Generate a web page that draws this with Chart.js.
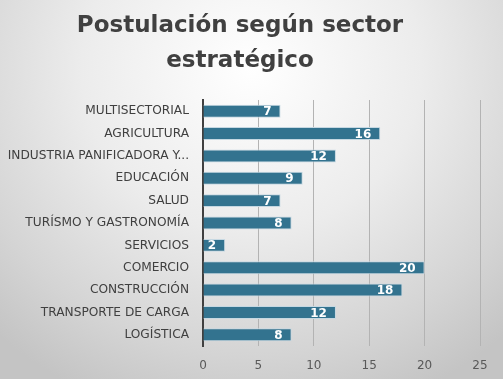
<!DOCTYPE html>
<html><head><meta charset="utf-8">
<script src="https://cdn.jsdelivr.net/npm/chart.js@4"></script>
<style>
html,body{margin:0;padding:0;}
body{width:503px;height:379px;overflow:hidden;background:radial-gradient(ellipse 75% 95% at 50% 18%, #ffffff 0%, #ececec 45%, #d4d4d4 80%, #c4c4c4 100%);}
#wrap{width:503px;height:379px;position:relative;}
</style></head>
<body><div id="wrap"><canvas id="c" width="503" height="379"></canvas></div>
<script>
const categories = ["MULTISECTORIAL","AGRICULTURA","INDUSTRIA PANIFICADORA Y...","EDUCACIÓN","SALUD","TURÍSMO Y GASTRONOMÍA","SERVICIOS","COMERCIO","CONSTRUCCIÓN","TRANSPORTE DE CARGA","LOGÍSTICA"];
const values = [7,16,12,9,7,8,2,20,18,12,8];
const xTicks = [0,5,10,15,20,25];
const titleLines = ["Postulación según sector","estratégico"];

const labelPlugin = {
  id:'barLabels',
  afterDatasetsDraw(chart){
    const ctx = chart.ctx;
    const meta = chart.getDatasetMeta(0);
    ctx.save();
    ctx.fillStyle = '#ffffff';
    ctx.font = 'bold 12px "DejaVu Sans", sans-serif';
    ctx.textAlign = 'right';
    ctx.textBaseline = 'middle';
    meta.data.forEach((bar,i)=>{
      ctx.fillText(String(chart.data.datasets[0].data[i]), bar.x - 9, bar.y + 1);
    });
    ctx.restore();
  }
};

new Chart(document.getElementById('c'),{
  type:'bar',
  data:{labels:categories,datasets:[{data:values,backgroundColor:'#33738f',borderColor:'#c6d8e2',borderWidth:1,borderSkipped:'start',barPercentage:0.58,categoryPercentage:1}]},
  options:{
    indexAxis:'y',responsive:false,animation:false,devicePixelRatio:1,
    layout:{padding:{left:0,right:23,top:6,bottom:0}},
    plugins:{
      legend:{display:false},tooltip:{enabled:false},
      title:{display:true,text:titleLines,color:'#404040',font:{family:'"DejaVu Sans", sans-serif',size:23,weight:'bold',lineHeight:1.5},padding:{top:3,bottom:22}}
    },
    scales:{
      x:{min:0,max:25,afterBuildTicks(s){s.ticks=xTicks.map(v=>({value:v}));},
         afterFit(s){s.height=33;},
         grid:{color:'#b3b3b3',lineWidth:1,drawTicks:false},border:{display:false},
         ticks:{color:'#595959',font:{family:'"DejaVu Sans", sans-serif',size:12},padding:13}},
      y:{afterFit(s){s.width=203;},
         grid:{display:false,drawTicks:false},border:{display:true,color:'#404040',width:2},
         ticks:{color:'#404040',font:{family:'"DejaVu Sans", sans-serif',size:12.2},padding:14,autoSkip:false}}
    }
  },
  plugins:[labelPlugin]
});
</script></body></html>
